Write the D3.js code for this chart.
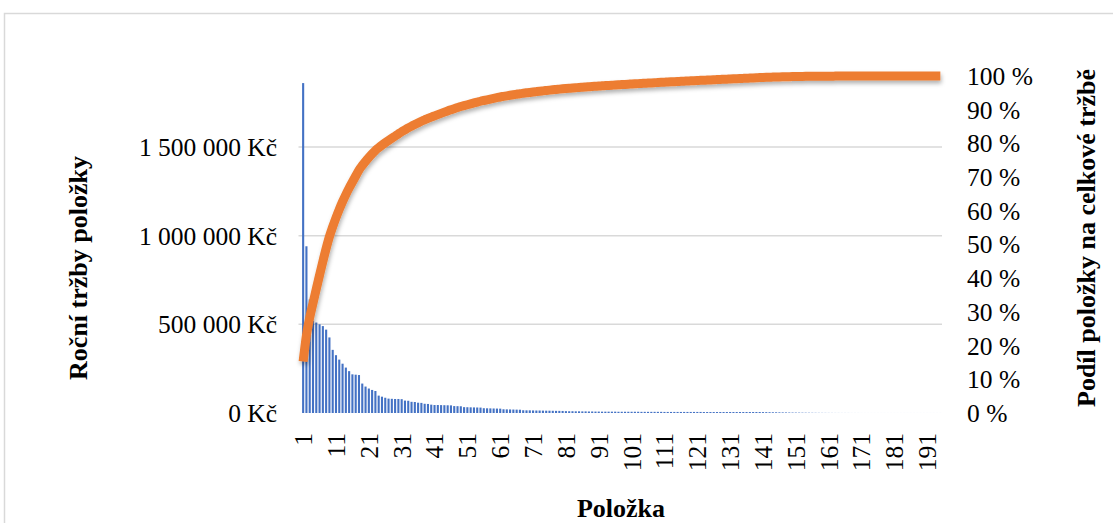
<!DOCTYPE html>
<html>
<head>
<meta charset="utf-8">
<script src="https://cdn.jsdelivr.net/npm/d3@7"></script>
<style>
  body { margin: 0; background: #fff; }
  text { font-family: "Liberation Serif", "Times New Roman", serif; fill: #000; }
</style>
</head>
<body>
<svg id="chart"></svg>
<script>
// Yearly sales per item (Kč), sorted from the biggest one
const sales = [
    1860000, 940000, 640000, 520000, 510000, 500000, 490000, 470000, 426000, 356000,
    326000, 301000, 278000, 256000, 236000, 218000, 216000, 214000, 166000, 149000,
    138000, 130000, 124000, 98000, 92000, 86000, 81000, 80000, 79000, 79000,
    78000, 70000, 69000, 63000, 62000, 58000, 57000, 52000, 51000, 47000,
    45000, 45000, 44500, 44000, 43500, 43000, 39000, 38500, 38000, 33000,
    32500, 32000, 31500, 31000, 30500, 27000, 26500, 26000, 25500, 25000,
    24500, 21000, 20500, 20000, 19500, 19000, 18500, 15500, 15000, 15000,
    14500, 14000, 14000, 13500, 13000, 13000, 12500, 12000, 12000, 11500,
    10500, 10000, 10000, 9500, 9500, 9000, 9000, 8500, 8500, 8000,
    8000, 7500, 7500, 7500, 7500, 7500, 7000, 7000, 7000, 7000,
    7000, 7000, 7000, 6500, 6500, 6500, 6500, 6500, 6500, 6500,
    6000, 6000, 6000, 6000, 6000, 6000, 6000, 6000, 6000, 6000,
    6000, 6000, 5500, 5500, 5500, 5500, 5500, 5500, 5500, 5500,
    5500, 5500, 5500, 5500, 5500, 5500, 5500, 5500, 5500, 5500,
    5000, 4800, 4500, 4200, 4000, 3700, 3400, 3100, 2800, 2500,
    2300, 2100, 1900, 1700, 1500, 1300, 1100, 900, 800, 700,
    600, 500, 400, 400, 300, 300, 300, 200, 200, 200,
    100, 100, 100, 100, 100, 100, 100, 100, 100, 100,
    100, 100, 100, 100, 100, 100, 100, 100, 100, 100,
    100, 100, 100, 100, 100
];
const items = d3.range(1, sales.length + 1);
const xTickLabels = [1, 11, 21, 31, 41, 51, 61, 71, 81, 91, 101, 111, 121, 131, 141, 151, 161, 171, 181, 191];
const salesTicks = [0, 500000, 1000000, 1500000];
const shareTicks = [0, 0.1, 0.2, 0.3, 0.4, 0.5, 0.6, 0.7, 0.8, 0.9, 1];

function drawPareto() {
    const width = 1113;
    const height = 523;
    const left = 301.5, right = 942, top = 76, bottom = 413;

    const svg = d3.select('#chart')
        .attr('width', width)
        .attr('height', height);

    // soft shadow like the office chart
    const defs = svg.append('defs');
    defs.append('filter')
        .attr('id', 'shadow')
        .attr('x', '-10%').attr('y', '-10%')
        .attr('width', '120%').attr('height', '130%')
        .append('feDropShadow')
        .attr('dx', 1).attr('dy', 3)
        .attr('stdDeviation', 2)
        .attr('flood-color', '#000')
        .attr('flood-opacity', 0.3);

    // chart frame
    svg.append('rect')
        .attr('x', 4.5).attr('y', 13.5)
        .attr('width', width + 20).attr('height', height + 20)
        .attr('fill', '#fff')
        .attr('stroke', '#d9d9d9')
        .attr('stroke-width', 1.5);

    const x = d3.scaleBand()
        .domain(items)
        .range([left, right])
        .paddingInner(0.36)
        .paddingOuter(0.18);

    const y = d3.scaleLinear()
        .domain([0, 1900000])
        .range([bottom, top]);

    const yShare = d3.scaleLinear()
        .domain([0, 1])
        .range([bottom, top]);

    const locale = d3.formatLocale({ decimal: ',', thousands: ' ', grouping: [3], currency: ['', ' Kč'] });
    const fmt = locale.format(',d');

    // gridlines
    svg.append('g')
        .selectAll('line')
        .data(salesTicks.slice(1))
        .enter().append('line')
        .attr('x1', left - 3).attr('x2', right)
        .attr('y1', d => y(d)).attr('y2', d => y(d))
        .attr('stroke', '#d9d9d9')
        .attr('stroke-width', 1.5);

    // baseline
    svg.append('line')
        .attr('x1', left - 3).attr('x2', right)
        .attr('y1', bottom).attr('y2', bottom)
        .attr('stroke', '#d9d9d9')
        .attr('stroke-width', 2)
        .attr('filter', 'url(#shadow)');

    // bars
    svg.append('g')
        .selectAll('rect')
        .data(sales)
        .enter().append('rect')
        .attr('x', (d, i) => x(items[i]))
        .attr('width', x.bandwidth())
        .attr('y', d => y(d))
        .attr('height', d => bottom - y(d))
        .attr('fill', '#4472c4');

    // cumulative share line
    const total = d3.sum(sales);
    const share = Array.from(d3.cumsum(sales), v => v / total);

    const line = d3.line()
        .x((d, i) => x(items[i]) + x.bandwidth() / 2)
        .y(d => yShare(d))
        .curve(d3.curveMonotoneX);

    svg.append('path')
        .datum(share)
        .attr('d', line)
        .attr('fill', 'none')
        .attr('stroke', '#ed7d31')
        .attr('stroke-width', 9)
        .attr('stroke-linejoin', 'round')
        .attr('filter', 'url(#shadow)');

    // left axis labels
    svg.append('g')
        .selectAll('text')
        .data(salesTicks)
        .enter().append('text')
        .attr('x', 277)
        .attr('y', d => y(d))
        .attr('dy', '0.35em')
        .attr('text-anchor', 'end')
        .style('font-size', '25.5px')
        .text(d => fmt(d) + ' Kč');

    // right axis labels
    svg.append('g')
        .selectAll('text')
        .data(shareTicks)
        .enter().append('text')
        .attr('x', 967)
        .attr('y', d => yShare(d))
        .attr('dy', '0.35em')
        .style('font-size', '25.5px')
        .text(d => Math.round(d * 100) + ' %');

    // item labels, rotated
    svg.append('g')
        .selectAll('text')
        .data(xTickLabels)
        .enter().append('text')
        .attr('transform', d => `translate(${x(d) + x.bandwidth() / 2},433) rotate(-90)`)
        .attr('dy', '0.35em')
        .attr('text-anchor', 'end')
        .style('font-size', '25.5px')
        .text(d => d);

    // axis titles
    svg.append('text')
        .attr('transform', 'translate(78,268) rotate(-90)')
        .attr('dy', '0.35em')
        .attr('text-anchor', 'middle')
        .style('font-size', '26px')
        .style('font-weight', 'bold')
        .text('Roční tržby položky');

    svg.append('text')
        .attr('transform', 'translate(1086,238) rotate(-90)')
        .attr('dy', '0.35em')
        .attr('text-anchor', 'middle')
        .style('font-size', '26px')
        .style('font-weight', 'bold')
        .text('Podíl položky na celkové tržbě');

    svg.append('text')
        .attr('x', 621)
        .attr('y', 517)
        .attr('text-anchor', 'middle')
        .style('font-size', '26px')
        .style('font-weight', 'bold')
        .text('Položka');
}

drawPareto();
</script>
</body>
</html>
